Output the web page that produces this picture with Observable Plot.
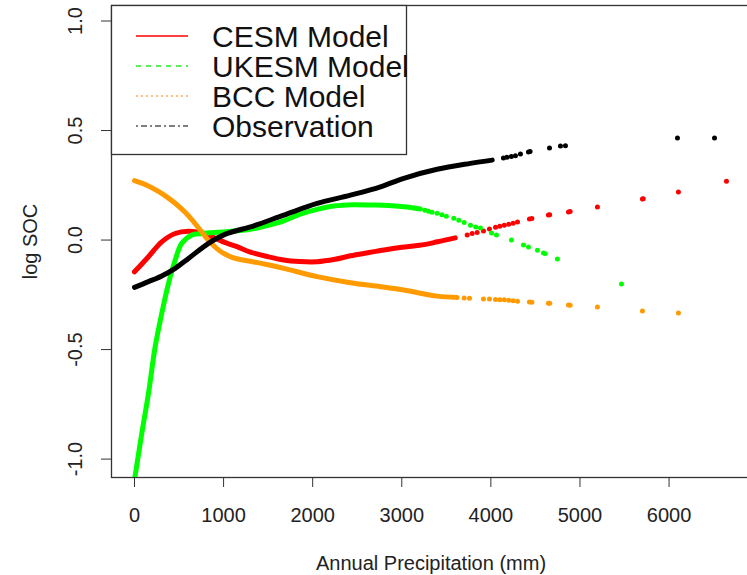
<!DOCTYPE html>
<html><head><meta charset="utf-8">
<script src="https://cdn.jsdelivr.net/npm/d3@7"></script>
<script src="https://cdn.jsdelivr.net/npm/@observablehq/plot@0.6"></script>
<style>
body{margin:0;background:#fff;font-family:"Liberation Sans",Arial,sans-serif;}
#wrap{position:relative;width:747px;height:575px;overflow:hidden;}
#legend{position:absolute;left:0;top:0;}
</style></head><body><div id="wrap"></div>
<script>
// ---- data ----
const seriesNames = ["CESM Model", "UKESM Model", "BCC Model", "Observation"];
const seriesColors = ["#ff0000", "#00ff00", "#ff9a00", "#000000"];
const legendDash = ["none", "5,5", "2,3", "2,3,6,3"];
const legendStroke = ["#ff0000", "#22ee22", "#ffaa55", "#555555"];

// dense (continuous) parts
const cesmX = [0,157,306,457,606,755,872,1021,1150,1302,1489,1673,1850,2050,2250,2424,2649,2800,3000,3200,3400,3600];
const cesmY = [-0.145,-0.076,-0.008,0.030,0.040,0.032,0.015,-0.012,-0.030,-0.055,-0.075,-0.091,-0.098,-0.099,-0.088,-0.072,-0.056,-0.045,-0.033,-0.024,-0.008,0.010];
const ukesmX = [0,82,157,232,306,382,457,531,643,755,1021,1302,1489,1676,1860,2050,2237,2450,2649,2850,3023,3210];
const ukesmY = [-1.095,-0.883,-0.700,-0.487,-0.335,-0.198,-0.091,-0.015,0.023,0.030,0.038,0.049,0.066,0.088,0.118,0.140,0.155,0.161,0.160,0.158,0.152,0.142];
const bccX = [0,150,273,370,460,560,648,720,797,870,946,1020,1096,1200,1339,1500,1676,2050,2424,2761,3023,3397,3622];
const bccY = [0.271,0.248,0.221,0.195,0.167,0.130,0.091,0.055,0.015,-0.018,-0.046,-0.065,-0.079,-0.090,-0.100,-0.113,-0.129,-0.167,-0.195,-0.213,-0.228,-0.256,-0.262];
const obsX = [0,157,306,457,606,831,1021,1339,1676,2050,2424,2761,3023,3397,3771,4015];
const obsY = [-0.216,-0.190,-0.164,-0.129,-0.084,-0.015,0.027,0.065,0.114,0.167,0.205,0.243,0.282,0.323,0.350,0.365];

// sparse (separate points) parts
const cesmPtX = [3734,3790,3846,3917,3984,4052,4100,4150,4200,4250,4299,4433,4460,4646,4660,4871,4890,5196,5701,5710,6105,6644];
const cesmPtY = [0.023,0.030,0.035,0.041,0.050,0.059,0.063,0.068,0.072,0.077,0.082,0.096,0.098,0.114,0.115,0.128,0.130,0.151,0.187,0.189,0.219,0.269];
const ukesmPtX = [3260,3300,3340,3397,3450,3500,3584,3640,3700,3771,3830,3883,4007,4063,4231,4366,4422,4523,4590,4610,4747,5466];
const ukesmPtY = [0.136,0.131,0.127,0.122,0.115,0.109,0.099,0.090,0.080,0.068,0.060,0.055,0.032,0.023,0.000,-0.023,-0.032,-0.046,-0.059,-0.062,-0.087,-0.201];
const bccPtX = [3700,3760,3917,3984,4052,4100,4150,4200,4250,4299,4433,4460,4646,4660,4871,4890,5196,5701,6105];
const bccPtY = [-0.264,-0.266,-0.269,-0.269,-0.271,-0.272,-0.273,-0.275,-0.277,-0.279,-0.283,-0.284,-0.288,-0.289,-0.297,-0.298,-0.306,-0.324,-0.333];
const obsPtX = [4141,4180,4230,4276,4332,4422,4440,4658,4781,4837,6094,6510];
const obsPtY = [0.375,0.378,0.381,0.385,0.393,0.402,0.404,0.420,0.429,0.431,0.466,0.466];

const xTicks = [0,1000,2000,3000,4000,5000,6000];
const yTicks = [-1.0,-0.5,0.0,0.5,1.0];
const xTitle = "Annual Precipitation (mm)";
const yTitle = "log SOC";

// ---- build ----
const zip = (xs, ys) => xs.map((x, i) => ({x, y: ys[i]}));
const dense = [zip(cesmX,cesmY), zip(ukesmX,ukesmY), zip(bccX,bccY), zip(obsX,obsY)];
const sparse = [zip(cesmPtX,cesmPtY), zip(ukesmPtX,ukesmPtY), zip(bccPtX,bccPtY), zip(obsPtX,obsPtY)];

const seriesMarks = [];
dense.forEach((d, i) => {
  seriesMarks.push(Plot.line(d, {x: "x", y: "y", stroke: seriesColors[i], strokeWidth: 5, curve: "catmull-rom", clip: true}));
  seriesMarks.push(Plot.dot(sparse[i], {x: "x", y: "y", r: 2.5, fill: seriesColors[i], stroke: "none", clip: true}));
});

const chart = Plot.plot({
  width: 747, height: 575,
  marginLeft: 111, marginRight: -3, marginTop: 5, marginBottom: 98,
  style: {fontFamily: "'Liberation Sans', Arial, sans-serif", fontSize: "20px", color: "#222", background: "white"},
  x: {domain: [-258, 6914]},
  y: {domain: [-1.084, 1.0708]},
  marks: [
    Plot.frame({stroke: "#333", strokeWidth: 1.3}),
    Plot.axisX(xTicks, {tickSize: 10, tickPadding: 20, tickFormat: d => String(d), fontSize: 20, label: null, stroke: "#333", fill: "#222"}),
    Plot.axisY(yTicks, {tickSize: 10, tickFormat: () => "", label: null, stroke: "#333"}),
    Plot.text(yTicks, {y: d => d, text: d => d.toFixed(1), frameAnchor: "left", dx: -36, rotate: -90, textAnchor: "middle", lineAnchor: "middle", fontSize: 20, fill: "#222"}),
    Plot.text([yTitle], {frameAnchor: "left", dx: -81, rotate: -90, textAnchor: "middle", lineAnchor: "middle", fontSize: 20, fill: "#222"}),
    Plot.text([xTitle], {frameAnchor: "bottom", dy: 86, textAnchor: "middle", lineAnchor: "middle", fontSize: 20, fill: "#222"}),
    ...seriesMarks
  ]
});
document.getElementById("wrap").appendChild(chart);

// ---- legend (top-left box inside the plot) ----
const lg = d3.select("#wrap").append("svg").attr("id", "legend").attr("width", 747).attr("height", 575);
lg.append("rect").attr("x", 111.5).attr("y", 5.5).attr("width", 295).attr("height", 149)
  .attr("fill", "white").attr("stroke", "#333").attr("stroke-width", 1.3);
seriesNames.forEach((name, i) => {
  const yy = 36 + i * 30;
  lg.append("line").attr("x1", 136).attr("x2", 188).attr("y1", yy).attr("y2", yy)
    .style("stroke", legendStroke[i]).style("stroke-width", "1.6px")
    .style("stroke-dasharray", legendDash[i]);
  lg.append("text").attr("x", 212).attr("y", 47 + i * 30).text(name)
    .attr("font-size", 30).attr("fill", "#111")
    .attr("font-family", "'Liberation Sans', Arial, sans-serif");
});
</script>
</body></html>
